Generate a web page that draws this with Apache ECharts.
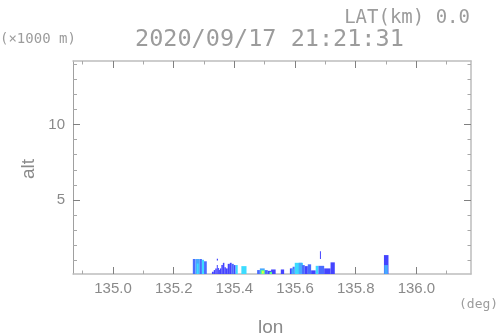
<!DOCTYPE html>
<html><head><meta charset="utf-8">
<script src="https://cdn.jsdelivr.net/npm/echarts@6/dist/echarts.min.js"></script>
<style>html,body{margin:0;padding:0;background:#fff}#c{width:498px;height:336px}</style>
</head><body><div id="c"></div>
<script>
// ---- data ----
const lonMin = 134.868, lonMax = 136.18;
const altMin = 0.11, altMax = 14.19;
const lonMajor = [135.0, 135.2, 135.4, 135.6, 135.8, 136.0];
const lonMinor = [134.9, 135.1, 135.3, 135.5, 135.7, 135.9, 136.1];
const altMajor = [5, 10];
const altMinor = [1, 2, 3, 4, 6, 7, 8, 9, 11, 12, 13, 14];
const levelColors = ['#4444ff', '#4a6cff', '#46a8ff', '#3cdcff', '#5cff8c', '#e6ff3c'];

// echo cells: left lon, right lon, bottom alt, top alt, level
const segLon0 = [135.263,135.272,135.276,135.286,135.293,135.300,135.342,
  135.326,135.332,135.337,135.342,135.345,135.349,135.352,135.357,135.362,135.367,135.372,135.378,135.385,135.391,135.398,135.404,
  135.423,
  135.475,135.484,135.500,135.510,135.521,135.487,135.491,135.516,135.553,
  135.583,135.592,135.599,135.612,135.623,135.632,135.642,135.653,135.668,135.677,135.682,135.696,135.717,135.588,
  135.893,135.894];
const segLon1 = [135.272,135.286,135.282,135.293,135.300,135.309,135.346,
  135.332,135.337,135.342,135.345,135.349,135.352,135.357,135.362,135.367,135.372,135.378,135.385,135.391,135.398,135.404,135.411,
  135.440,
  135.484,135.500,135.510,135.521,135.536,135.500,135.497,135.524,135.564,
  135.592,135.599,135.626,135.623,135.632,135.642,135.653,135.668,135.677,135.696,135.685,135.717,135.731,135.596,
  135.908,135.906];
const segBot = [0.11,0.11,0.11,0.11,0.11,0.11,1.0,
  0.11,0.11,0.11,0.11,0.11,0.11,0.11,0.11,0.11,0.11,0.11,0.11,0.11,0.11,0.11,0.11,
  0.11,
  0.11,0.11,0.11,0.11,0.11,0.11,0.15,0.11,0.11,
  0.11,0.11,0.11,0.11,0.11,0.11,0.11,0.11,0.11,0.11,1.1,0.11,0.11,0.11,
  0.11,0.11];
const segTop = [1.1,1.1,0.8,1.1,1.05,0.95,1.12,
  0.26,0.37,0.48,0.7,0.5,0.37,0.48,0.7,0.85,0.55,0.48,0.78,0.85,0.78,0.7,0.7,
  0.63,
  0.37,0.48,0.37,0.32,0.41,0.37,0.3,0.25,0.41,
  0.48,0.59,0.85,0.85,0.7,0.63,0.75,0.35,0.65,0.65,1.62,0.48,0.88,0.45,
  1.36,0.7];
const segLvl = [1,2,3,1,3,1,0,
  0,0,0,0,0,0,0,0,0,0,0,0,0,1,0,3,
  3,
  1,2,1,0,0,4,5,4,0,
  0,1,3,2,1,0,1,0,3,1,0,0,0,2,
  0,2];

const cells = segLon0.map((v, i) => [v, segLon1[i], segBot[i], segTop[i], segLvl[i]]);

const chart = echarts.init(document.getElementById('c'), null, {renderer: 'canvas'});
const lineC = '#bdbdbd', majC = '#808080', minC = '#a8a8a8', txtC = '#8a8a8a', monoC = '#9c9c9c';
const narrow = '"Liberation Sans Narrow", "Liberation Sans", sans-serif';
const mono = '"DejaVu Sans Mono", monospace';

function xAx(pos, ticks, len, col, label, line) {
  return {type: 'value', position: pos, min: lonMin, max: lonMax,
    axisLine: {show: line, lineStyle: {color: lineC, width: 1.5}},
    axisTick: {show: true, inside: true, length: len, customValues: ticks, lineStyle: {color: col, width: 1}},
    axisLabel: label ? {show: true, customValues: ticks, formatter: v => v.toFixed(1), color: txtC, fontSize: 15, fontFamily: narrow, margin: 7} : {show: false},
    splitLine: {show: false}};
}
function yAx(pos, ticks, len, col, label, line) {
  return {type: 'value', position: pos, min: altMin, max: altMax,
    axisLine: {show: line, lineStyle: {color: pos === 'left' ? '#a0a0a0' : lineC, width: pos === 'left' ? 1 : 1.5}},
    axisTick: {show: true, inside: true, length: len, customValues: ticks, lineStyle: {color: col, width: 1}},
    axisLabel: label ? {show: true, customValues: ticks, formatter: v => String(v), color: txtC, fontSize: 15, fontFamily: narrow, margin: 8} : {show: false},
    splitLine: {show: false}};
}

chart.setOption({
  animation: false,
  grid: {left: 73, right: 27, top: 61, bottom: 62, containLabel: false},
  xAxis: [
    xAx('bottom', lonMajor, 7, majC, true, true),
    xAx('bottom', lonMinor, 3.5, minC, false, false),
    xAx('top', lonMajor, 7, majC, false, true),
    xAx('top', lonMinor, 3.5, minC, false, false)
  ],
  yAxis: [
    yAx('left', altMajor, 7, majC, true, true),
    yAx('left', altMinor, 4, minC, false, false),
    yAx('right', altMajor, 7, majC, false, true),
    yAx('right', altMinor, 3.5, minC, false, false)
  ],
  series: [{
    type: 'custom', xAxisIndex: 0, yAxisIndex: 0, clip: true,
    data: cells,
    renderItem: function (params, api) {
      const p0 = api.coord([api.value(0), api.value(3)]);
      const p1 = api.coord([api.value(1), api.value(2)]);
      return {type: 'rect', shape: {x: p0[0], y: p0[1], width: Math.max(1, p1[0] - p0[0]), height: p1[1] - p0[1]},
        style: {fill: levelColors[api.value(4)]}};
    }
  }],
  graphic: [
    {type: 'text', right: 28, top: 9, style: {text: 'LAT(km) 0.0', fill: monoC, font: '19px ' + mono}},
    {type: 'text', left: 135, top: 28, style: {text: '2020/09/17 21:21:31', fill: monoC, font: '23.5px ' + mono}},
    {type: 'text', left: 0, top: 32, style: {text: '(×1000 m)', fill: monoC, font: '14px ' + mono}},
    {type: 'text', left: 459, top: 298, style: {text: '(deg)', fill: monoC, font: '13px ' + mono}},
    {type: 'text', left: 258, top: 318, style: {text: 'lon', fill: txtC, font: '19px ' + narrow}},
    {type: 'text', x: 19, y: 179, rotation: Math.PI / 2, style: {text: 'alt', fill: txtC, font: '19px ' + narrow}}
  ]
});
</script></body></html>
